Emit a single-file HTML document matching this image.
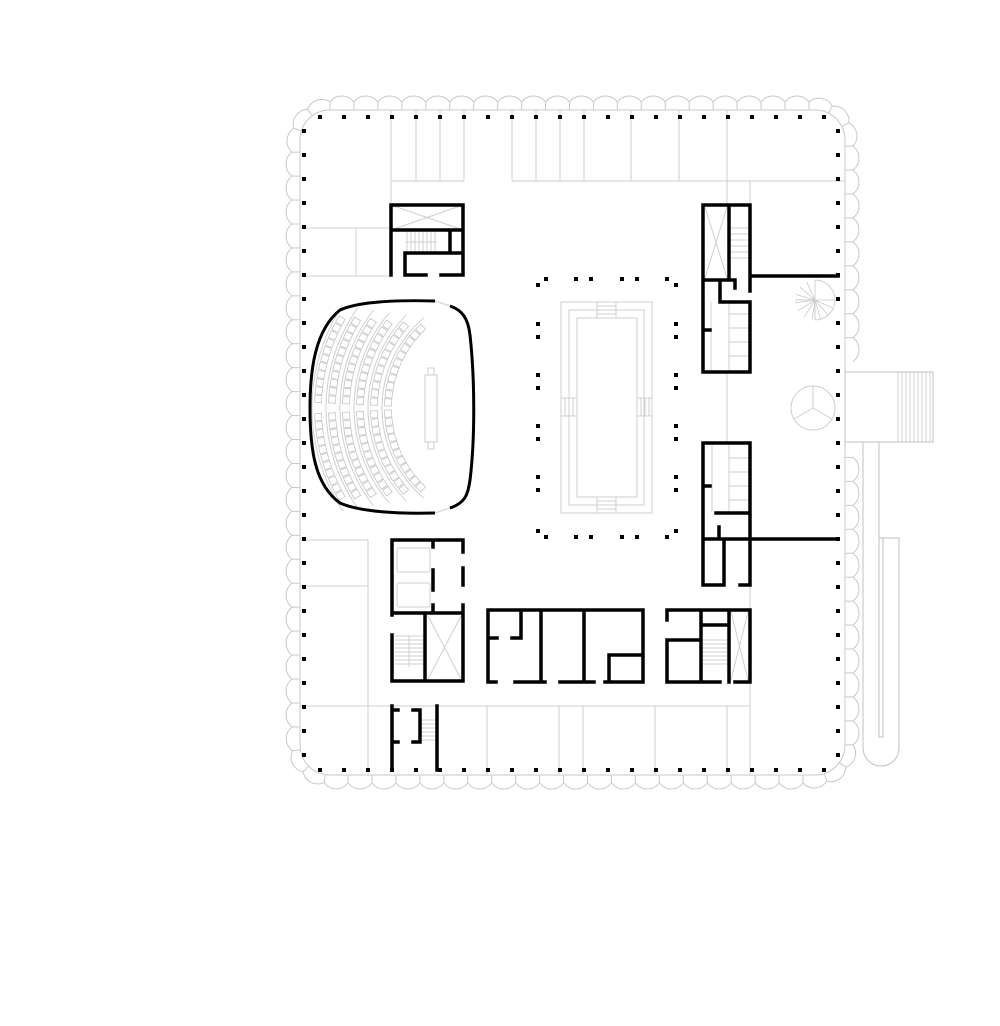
<!DOCTYPE html>
<html><head><meta charset="utf-8"><style>html,body{margin:0;padding:0;background:#fff}svg{display:block}</style></head>
<body>
<svg id="s" width="1000" height="1026" viewBox="0 0 1000 1026" xmlns="http://www.w3.org/2000/svg">
<g id="scal" fill="none" stroke="#c8c8c8" stroke-width="1"></g>
<rect x="300" y="110" width="545" height="665" rx="30" fill="#fff" stroke="#c8c8c8" stroke-width="1"/>
<g fill="none" stroke="#c0c0c0" stroke-width="1">
<rect x="845" y="372" width="88" height="70" fill="#fff"/>
<path d="M863 442 V748 A18 18 0 0 0 899 748 V538 H879 V442"/>
<rect x="879" y="538" width="4" height="199"/>
</g>
<g id="br" stroke="#c8c8c8" stroke-width="0.8"></g>
<g id="grey" fill="none" stroke="#cfcfcf" stroke-width="1">
<path d="M391 110V205 M416 110V181 M440 110V181 M464 110V181 M391 181H464"/>
<path d="M512 110V181 M536 110V181 M560 110V181 M584 110V181 M631 110V181 M679 110V181 M727 110V181 M512 181H845 M727 181V205 M750 181V205"/>
<path d="M300 228H391 M300 276H391 M356 228V276"/>
<path d="M300 540H368 M300 586H368 M368 540V775 M300 706H750 M487 706V775 M559 706V775 M583 706V775 M655 706V775 M727 706V775 M750 585V775"/>
<path d="M727 372V443"/>
<rect x="561" y="302" width="91" height="211"/>
<rect x="569" y="310" width="75" height="195"/>
<rect x="577" y="318" width="60" height="179"/>
<path d="M597 302V318 M616 302V318 M597 497V513 M616 497V513 M561 398H577 M561 416H577 M637 398H652 M637 416H652"/>
<path d="M597 306H616 M597 310H616 M597 314H616 M597 501H616 M597 505H616 M597 509H616 M565 398V416 M569 398V416 M573 398V416 M641 398V416 M645 398V416 M649 398V416"/>
<path d="M391 205L463 230 M463 205L391 230"/>
<path d="M407 232V252 M411 232V252 M415 232V252 M419 232V252 M423 232V252 M427 232V252 M431 232V252 M435 232V252 M405 242H437"/>
<path d="M705 207L727 278 M727 207L705 278"/>
<path d="M731 228H748 M731 234H748 M731 240H748 M731 246H748 M731 252H748 M731 258H748"/>
<path d="M729 302V372 M711 302V372 M729 314H750 M729 328H750 M729 342H750 M729 356H750"/>
<path d="M712 443V512 M729 443V512 M729 458H750 M729 472H750 M729 486H750 M729 500H750"/>
<rect x="397" y="548" width="33" height="24" rx="2"/><rect x="397" y="583" width="33" height="24" rx="2"/>
<path d="M428 616L461 679 M461 616L428 679"/>
<path d="M395 636H423 M395 640H423 M395 644H423 M395 648H423 M395 652H423 M395 656H423 M395 660H423 M395 664H423 M409 636V667"/>
<path d="M731 612L748 680 M748 612L731 680"/>
<path d="M703 640H727 M703 644H727 M703 648H727 M703 652H727 M703 656H727 M703 660H727 M703 664H727"/>
<path d="M420 720H437 M420 724H437 M420 728H437 M420 732H437 M420 736H437 M420 740H437"/>
<path d="M435 301 L450 306 M435 513 L450 508"/>
<rect x="425" y="375" width="12" height="67"/><rect x="428" y="368" width="6" height="7"/><rect x="428" y="442" width="6" height="7"/>
<path d="M815 280 A20 20 0 1 1 815 320 M795 300H815V320"/>
<circle cx="813" cy="408" r="22"/>
<path d="M813 408V386 M813 408L794 419 M813 408L832 419"/>
</g>
<g id="seats" fill="#fff" stroke="#c4c4c4" stroke-width="0.8"></g>
<g fill="none" stroke="#000" stroke-width="3">
<path d="M435 301 C400 300 360 301 340 310 C315 330 310 370 310 408 C310 450 315 485 340 503 C360 512 400 514 435 513"/>
<path d="M450 508 C465 503 468 495 470 480 C475 440 475 380 470 335 C468 318 462 310 450 306"/>
</g>
<g fill="none" stroke="#000" stroke-width="3.5" stroke-linecap="square">
<path d="M391 275V205H463V275 M391 230H463 M450 230V253 M405 275V253H463 M405 275H426 M441 275H463"/>
<path d="M703 205V372H750V302 M703 205H750V291 M729 205V280 M703 280H735V288 M720 280V302H750 M703 330H710 M750 276H838"/>
<path d="M703 585V443H750V585 M716 513H750 M719 527V539 M703 539H838 M724 539V585 M703 585H724 M740 585H750 M703 486H710"/>
<path d="M392 615V540H463V552 M463 568V585 M463 605V681H392V635 M392 613H463 M433 540V547 M433 570V590 M433 605V613 M425 613V681"/>
<path d="M496 682H488V610H643V682H605 M515 682H545 M560 682H594 M541 610V682 M584 610V682 M521 610V638H512 M488 638H497 M609 682V655H643"/>
<path d="M667 620V610H750V682H735 M667 642V682H720 M667 640H701 M701 610V682 M701 625H729 M729 610V682"/>
<path d="M392 770V706 M392 710H398 M413 710H420V742H413 M392 742H398 M437 706V770"/>
</g>
<g id="cols" fill="#000"></g>
</svg>
<script>
var NS="http://www.w3.org/2000/svg";
function el(p,t,a){var e=document.createElementNS(NS,t);for(var k in a)e.setAttribute(k,a[k]);document.getElementById(p).appendChild(e);}
// scallops along offset rounded rect
var L=300,R=845,T=110,B=775,rr=30,off=8,RC=rr+off;
var W=(R-L)-2*rr,H=(B-T)-2*rr,C=Math.PI/2*RC;
var segs=[['l',L+rr,T-off,1,0,W],['a',R-rr,T+rr,-Math.PI/2,C],['l',R+off,T+rr,0,1,H],['a',R-rr,B-rr,0,C],['l',R-rr,B+off,-1,0,W],['a',L+rr,B-rr,Math.PI/2,C],['l',L-off,B-rr,0,-1,H],['a',L+rr,T+rr,Math.PI,C]];
var P=2*W+2*H+4*C;
function pt(s){for(var i=0;i<segs.length;i++){var g=segs[i];var len=g[0]=='l'?g[5]:g[4];if(s<=len+1e-6){if(g[0]=='l')return [g[1]+g[3]*s,g[2]+g[4]*s];var a=g[3]+s/RC;return [g[1]+RC*Math.cos(a),g[2]+RC*Math.sin(a)];}s-=len;}return pt(0);}
var n=Math.round(P/24),st=P/n,pts=[];
for(var i=0;i<=n;i++)pts.push(pt((i*st)%P));
for(var i=0;i<n;i++){var a=pts[i],b=pts[i+1];
 if(a[0]>850&&((a[1]>366&&a[1]<446)||(b[1]>366&&b[1]<446)))continue;
 el('scal','path',{d:'M'+a[0]+' '+a[1]+' A15 15 0 0 1 '+b[0]+' '+b[1]});
 // tick inward
 var cxp=Math.min(Math.max(a[0],L+rr),R-rr),cyp=Math.min(Math.max(a[1],T+rr),B-rr);
 var dx=a[0]-cxp,dy=a[1]-cyp,d=Math.sqrt(dx*dx+dy*dy)||1;
 el('scal','line',{x1:a[0],y1:a[1],x2:a[0]-dx/d*off,y2:a[1]-dy/d*off});
}
for(var x=320;x<=836;x+=24){el('cols','rect',{x:x-2,y:115,width:4,height:4});el('cols','rect',{x:x-2,y:768,width:4,height:4});}
for(var y=131;y<=757;y+=24){el('cols','rect',{x:302,y:y-2,width:4,height:4});el('cols','rect',{x:836,y:y-2,width:4,height:4});}
[324,337,375,388,426,439,477,490].forEach(function(y){el('cols','rect',{x:536,y:y-2,width:4,height:4});el('cols','rect',{x:674,y:y-2,width:4,height:4});});
[546,576,591,622,637,667].forEach(function(x){el('cols','rect',{x:x-2,y:277,width:4,height:4});el('cols','rect',{x:x-2,y:535,width:4,height:4});});
[[538,285],[676,285],[538,531],[676,531]].forEach(function(p){el('cols','rect',{x:p[0]-2,y:p[1]-2,width:4,height:4});});
for(var x=898;x<=932;x+=4)el('br','line',{x1:x,y1:372,x2:x,y2:442});
for(var i=0;i<12;i++){var a=Math.PI*0.5+i*Math.PI*1.5/11;el('br','line',{x1:815,y1:300,x2:815+20*Math.cos(a),y2:300-20*Math.sin(a)});}
var cx=500,cy=408,radii=[182,168,154,140,126,112];
radii.forEach(function(r,k){
 var amax=Math.asin(Math.min(0.95,(92-k*2)/r));var step=8.2/r;
 for(var a=0.05;a<=amax;a+=step){[1,-1].forEach(function(sg){
  var ang=sg*a,x=cx-r*Math.cos(ang),y=cy+r*Math.sin(ang);
  el('seats','rect',{x:x-3.5,y:y-3.5,width:7,height:7,transform:'rotate('+(-ang*180/Math.PI)+' '+x+' '+y+')'});});}
 el('grey','path',{d:'M'+(cx-(r+6)*Math.cos(amax+0.05))+' '+(cy-(r+6)*Math.sin(amax+0.05))+' A'+(r+6)+' '+(r+6)+' 0 0 0 '+(cx-(r+6)*Math.cos(amax+0.05))+' '+(cy+(r+6)*Math.sin(amax+0.05))});
});
</script>
</body></html>
